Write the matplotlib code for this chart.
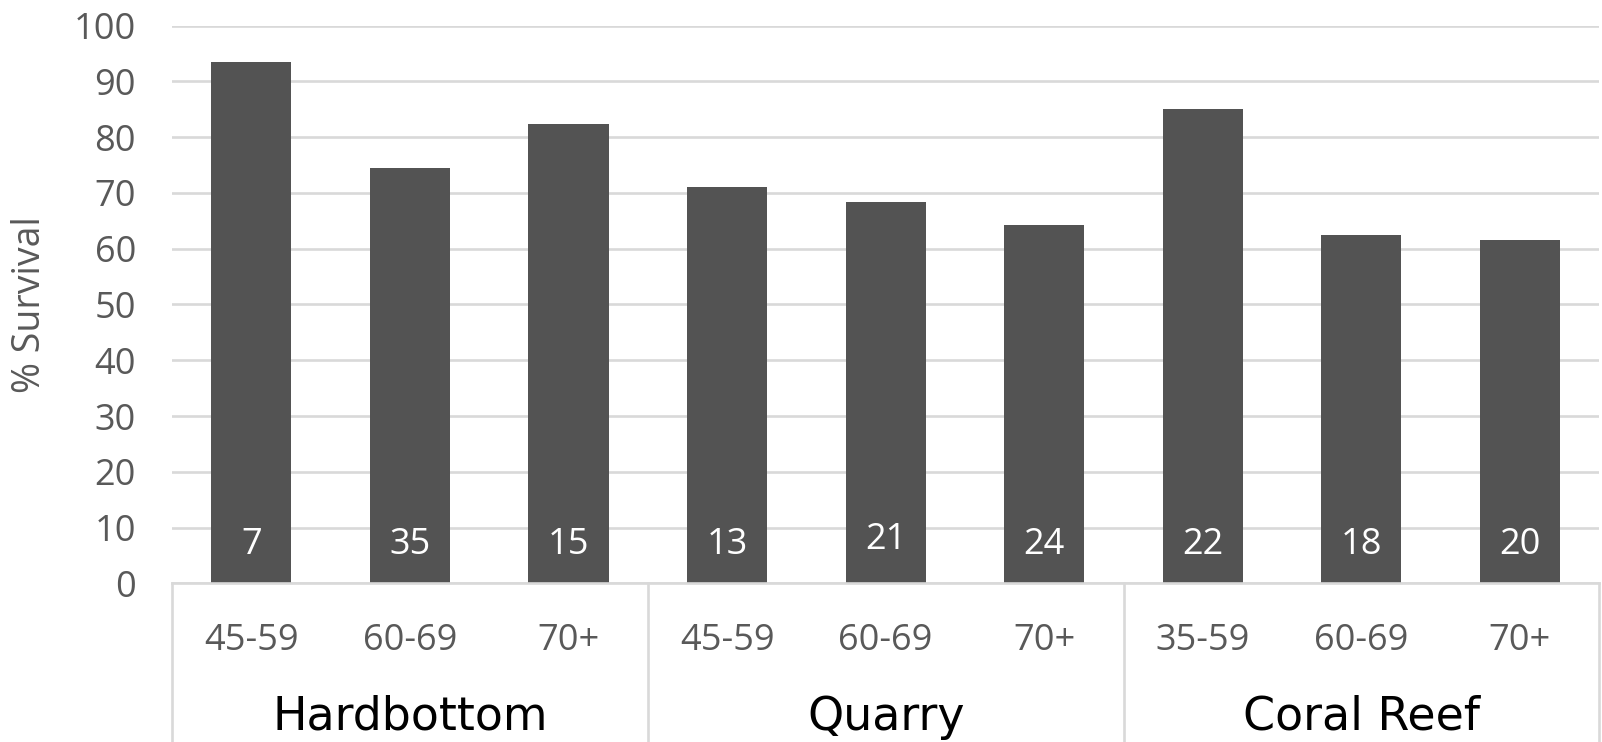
import matplotlib
matplotlib.use("Agg")
import matplotlib.pyplot as plt
import matplotlib.transforms as mtransforms

# Survival by size class within each habitat
groups = ["Hardbottom", "Quarry", "Coral Reef"]
age_classes = ["45-59", "60-69", "70+",
               "45-59", "60-69", "70+",
               "35-59", "60-69", "70+"]
survival = [93.4, 74.5, 82.4, 71.0, 68.3, 64.3, 85.1, 62.4, 61.6]
sample_sizes = [7, 35, 15, 13, 21, 24, 22, 18, 20]
yticks = [0, 10, 20, 30, 40, 50, 60, 70, 80, 90, 100]

BAR_COLOR = "#535353"
GRID_COLOR = "#d9d9d9"
TEXT_GRAY = "#595959"
FONT = "Open Sans"

fig = plt.figure(figsize=(16.02, 7.42), dpi=100)
ax = fig.add_axes([0.1074, 0.2139, 0.8909, 0.7515])

x = list(range(len(survival)))
ax.bar(x, survival, width=0.505, color=BAR_COLOR, zorder=3)

ax.set_xlim(-0.5, len(survival) - 0.5)
ax.set_ylim(0, 100)

# horizontal gridlines
ax.set_yticks(yticks)
ax.yaxis.grid(True, color=GRID_COLOR, linewidth=1.9, zorder=0)
ax.set_axisbelow(True)
ax.tick_params(axis="y", length=0, pad=26, labelsize=26, labelcolor=TEXT_GRAY)
for lab in ax.get_yticklabels():
    lab.set_fontfamily(FONT)
ax.set_xticks([])

for side in ["top", "right", "left"]:
    ax.spines[side].set_visible(False)
ax.spines["bottom"].set_color(GRID_COLOR)
ax.spines["bottom"].set_linewidth(1.9)
ax.spines["bottom"].set_zorder(4)

ax.set_ylabel("% Survival", fontsize=27, color=TEXT_GRAY, family=FONT, labelpad=18)

# sample sizes inside the bars
for xi, n in zip(x, sample_sizes):
    y_lab = 7.8 if n == 21 else 6.9
    ax.text(xi, y_lab, str(n), ha="center", va="center", color="white",
            fontsize=26, family=FONT, zorder=5)

# two-level category axis
trans = mtransforms.blended_transform_factory(ax.transData, ax.transAxes)
for xi, lab in zip(x, age_classes):
    ax.text(xi, -0.103, lab, transform=trans, ha="center", va="center",
            fontsize=26, color=TEXT_GRAY, family=FONT)

per_group = len(age_classes) // len(groups)
for gi, g in enumerate(groups):
    center = gi * per_group + (per_group - 1) / 2
    ax.text(center, -0.240, g, transform=trans, ha="center", va="center",
            fontsize=33, color="black", family="DejaVu Sans")

for b in range(len(groups) + 1):
    xb = b * per_group - 0.5
    ax.plot([xb, xb], [0, -0.282], transform=trans, color=GRID_COLOR,
            linewidth=1.9, clip_on=False, zorder=4)

fig.savefig("out.png", dpi=100)
